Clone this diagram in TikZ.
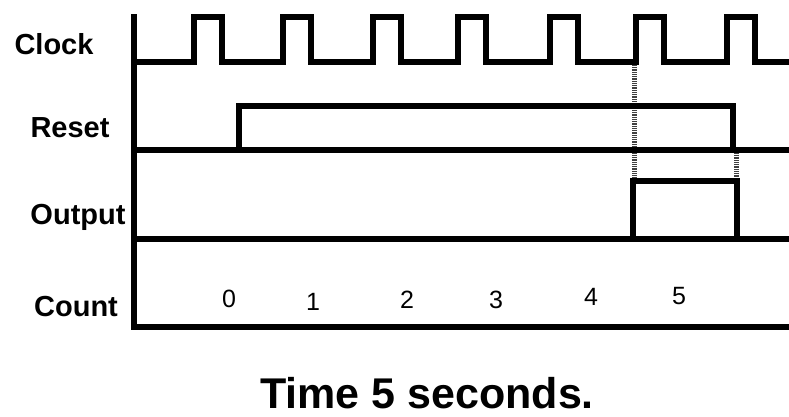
\documentclass[tikz,border=0pt]{standalone}
\usepackage{fontspec}
\setmainfont{Liberation Sans}
\usepackage{tikz}
\usetikzlibrary{positioning}
\tikzset{
    wave_line/.style = {draw=black, line width=5.5pt},
    guide_line/.style = {draw=black!75, line width=5pt, dash pattern=on 1pt off 0.8pt},
    sig_label/.style = {font=\fontsize{29}{29}\selectfont\bfseries, inner sep=0pt},
    count_num/.style = {font=\fontsize{25}{25}\selectfont, inner sep=0pt},
    title_text/.style = {font=\fontsize{43}{43}\selectfont\bfseries, inner sep=0pt}
}

\begin{document}
\begin{tikzpicture}[x=1pt, y=-1pt]
    \useasboundingbox (0,0) rectangle (789,416);
    % signal names
    \node [sig_label] (clock) at (54,44) {Clock};
    \node [sig_label] (reset) at (70,128) {Reset};
    \node [sig_label] (output) at (78,217) {Output};
    \node [sig_label] (count) at (76,307) {Count};
    % dotted guides
    \draw [guide_line] (634,65) -- (634,180);
    \draw [guide_line] (736,153) -- (736,180);
    % axis and count line
    \draw [wave_line] (134,14) -- (134,327) -- (789,327);
    % clock
    \draw [wave_line] (134,62)
        \foreach \c in {208,297,387,472,564,650,741} {
            -- (\c-14,62) -- (\c-14,17) -- (\c+14,17) -- (\c+14,62)
        } -- (789,62);
    % reset
    \draw [wave_line] (134,150) -- (789,150);
    \draw [wave_line] (239,150) -- (239,106) -- (733,106) -- (733,150);
    % output
    \draw [wave_line] (134,239) -- (789,239);
    \draw [wave_line] (633,239) -- (633,181) -- (737,181) -- (737,239);
    % count values
    \foreach \v/\x/\y in {0/229/299, 1/313/302, 2/407/300, 3/496/300, 4/591/297, 5/679/296}
        \node [count_num] (n\v) at (\x,\y) {\v};
    \node [title_text] (title) at (427,393) {Time 5 seconds.};
\end{tikzpicture}
\end{document}
